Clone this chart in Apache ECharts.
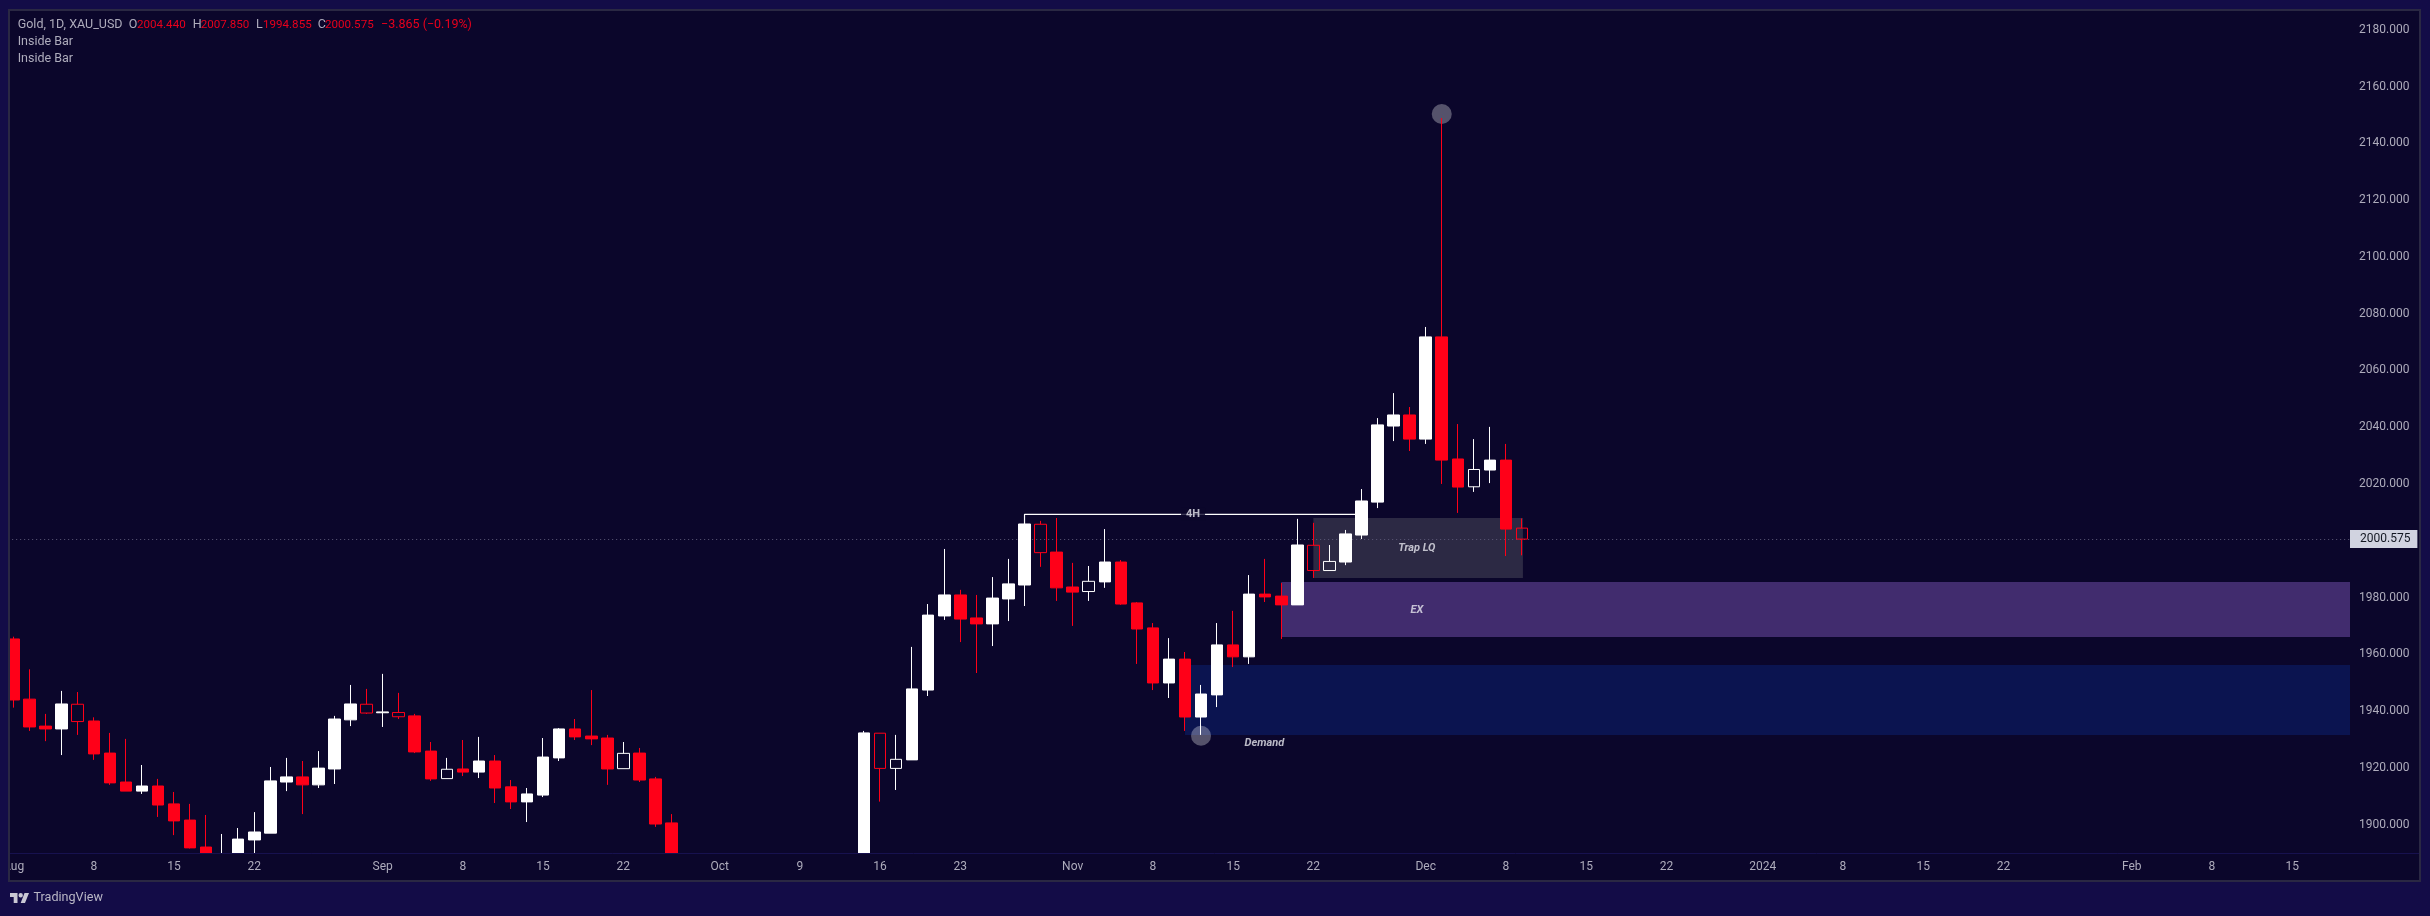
<!DOCTYPE html>
<html>
<head>
<meta charset="utf-8">
<title>Gold, 1D, XAU_USD</title>
<style>
  html, body { margin: 0; padding: 0; background: #130c47; }
  #chart { width: 2430px; height: 916px; }
</style>
</head>
<body>
<div id="chart"></div>
<script src="https://cdn.jsdelivr.net/npm/echarts@6/dist/echarts.min.js"></script>
<script>
// one entry per weekday from 1 Aug 2023, null = the whole bar sits below the pane
const opens = [1965.4,1944.2,1934.7,1933.7,1942.4,1936.5,1925.2,1915.0,1911.8,1913.6,1907.3,1901.6,1892.1,1887.0,1888.0,1894.6,1897.0,1915.0,1916.8,1914.0,1919.6,1936.9,1942.4,1939.4,1939.5,1938.3,1925.9,1916.2,1919.6,1918.5,1922.4,1913.3,1908.0,1910.4,1923.5,1933.7,1931.2,1930.5,1919.7,1925.2,1916.1,1900.6,
  null,null,null,null,null,null,null,null,null,null,null,
  1870.0,1932.2,1919.8,1922.8,1947.4,1973.5,1980.9,1972.8,1970.7,1979.5,1984.4,2005.8,1996.0,1983.7,1982.1,1985.5,1992.5,1978.1,1969.3,1949.9,1958.3,1937.9,1945.7,1963.3,1959.1,1981.2,1980.5,1977.4,1998.4,1989.5,1992.5,2002.0,2013.6,2040.4,2044.3,2035.8,2071.8,2028.8,2019.0,2024.9,2028.4,2004.44];
const closes = [1943.9,1934.4,1933.7,1942.5,1936.3,1924.9,1914.7,1911.8,1913.6,1906.9,1901.3,1891.8,1889.0,1889.0,1894.9,1897.4,1915.4,1916.8,1914.0,1919.9,1937.2,1942.5,1939.3,1939.7,1938.0,1925.6,1916.1,1919.5,1918.5,1922.4,1912.9,1908.0,1910.8,1923.8,1933.7,1930.9,1930.2,1919.6,1925.1,1915.7,1900.2,1875.0,
  null,null,null,null,null,null,null,null,null,null,null,
  1932.3,1919.8,1923.0,1947.8,1973.8,1980.9,1972.4,1970.7,1979.8,1984.8,2005.9,1995.8,1983.4,1981.9,1985.7,1992.5,1977.7,1968.9,1949.9,1958.3,1937.9,1946.0,1963.3,1959.1,1981.2,1980.2,1977.4,1998.5,1989.5,1992.7,2002.4,2014.0,2040.8,2044.3,2035.8,2071.8,2028.4,2018.9,2025.1,2028.4,2004.1,2000.575];
const lows = [1941.2,1933.0,1929.4,1924.5,1931.6,1922.8,1914.0,1911.8,1910.8,1902.7,1896.3,1891.6,1884.0,1884.0,1884.0,1888.0,1897.0,1911.8,1903.7,1912.9,1914.3,1934.7,1939.0,1934.4,1937.2,1925.2,1915.4,1916.2,1917.1,1916.4,1907.6,1905.5,1900.9,1909.7,1922.4,1929.8,1928.0,1914.0,1919.7,1915.0,1899.2,1872.0,
  null,null,null,null,null,null,null,null,null,null,null,
  1868.0,1908.1,1912.2,1922.8,1945.3,1972.1,1964.3,1953.4,1962.9,1971.7,1977.0,1990.8,1978.8,1970.0,1978.8,1983.4,1977.4,1956.6,1947.4,1944.6,1933.0,1931.6,1941.4,1955.5,1956.6,1978.4,1965.4,1977.4,1986.9,1989.5,1991.4,2000.6,2011.5,2035.1,2031.6,2034.1,2020.0,2009.8,2017.2,2020.3,1994.6,1994.855];
const highs = [1966.2,1954.7,1939.0,1947.1,1946.7,1937.8,1932.3,1930.2,1921.0,1916.1,1911.5,1907.3,1903.4,1896.7,1898.8,1904.4,1920.3,1923.5,1922.4,1925.9,1938.3,1949.2,1947.8,1953.1,1946.4,1939.0,1929.1,1923.5,1929.8,1930.9,1924.5,1915.7,1912.9,1930.5,1934.0,1937.2,1947.4,1931.6,1929.1,1927.0,1916.8,1903.7,
  null,null,null,null,null,null,null,null,null,null,null,
  1933.0,1932.2,1931.6,1962.6,1977.7,1997.1,1982.7,1980.9,1987.2,1993.6,2005.9,2007.0,2008.0,1992.2,1991.1,2004.1,1993.2,1978.4,1971.0,1965.7,1960.8,1949.2,1971.0,1975.3,1987.9,1993.6,1985.1,2007.7,2006.3,1998.5,2003.8,2018.2,2043.2,2052.0,2047.1,2075.3,2148.9,2041.1,2035.8,2040.1,2034.1,2007.85];
// inside bars, drawn hollow
const insideBars = [4,22,24,27,38,54,55,64,67,81,82,91,94];

const timeTicks = [0,5,10,15,23,28,33,38,44,49,54,59,66,71,76,81,88,93,98,103,109,114,119,124,132,137,142];
const timeLabels = ['Aug','8','15','22','Sep','8','15','22','Oct','9','16','23','Nov','8','15','22','Dec','8','15','22','2024','8','15','22','Feb','8','15'];
const priceTicks = [1900,1920,1940,1960,1980,2000,2020,2040,2060,2080,2100,2120,2140,2160,2180];

const lastPrice = 2000.575;
const levelLine = [[63,2005.9],[63,2009.3],[84,2009.3]];
const circleMarks = [[89,2150.3],[74,1931.3]];

const zoneNames = ['Trap LQ','EX','Demand'];
const zoneFrom = [81,79,73];
const zoneTo = [94.06,'max','max'];
const zoneTop = [2008.0,1985.5,1956.2];
const zoneBottom = [1986.9,1966.1,1931.6];
const zoneColors = ['#2c2944','#412c6e','#0b1450'];

const noteTexts = ['4H','Trap LQ','EX','Demand'];
const noteBars = [73.5,87.45,87.45,77.95];
const notePrices = [2009.3,1997.2,1975.6,1928.5];

const headerTexts = ['Gold, 1D, XAU_USD','O','2004.440','H','2007.850','L','1994.855','C','2000.575','−3.865 (−0.19%)'];
const headerLeft = [17.7,128.7,137,192.7,200.7,256,263,317.7,325,381];

const UP = '#ffffff';
const DOWN = '#ff0018';
const PANE = '#0b062b';
const OUTER = '#130c47';
const BORDER = '#2a2843';
const MUTED = '#aeacbc';
const FONT = 'Roboto';

const candles = opens.map((o, i) => {
    if (o === null) return null;
    const item = { value: [i, o, closes[i], lows[i], highs[i]] };
    if (insideBars.includes(i)) {
        item.itemStyle = { color: 'transparent', color0: 'transparent' };
    }
    return item;
}).filter(Boolean);

const zones = zoneNames.map((name, i) => [
    { xAxis: zoneFrom[i], yAxis: zoneTop[i], itemStyle: { color: zoneColors[i], opacity: 1 } },
    { xAxis: zoneTo[i], yAxis: zoneBottom[i] }
]);

const chrome = [
    { type: 'rect', z: -10, shape: { x: 9, y: 10, width: 2411, height: 871 }, style: { fill: PANE } },
    // candlesticks are not clipped to the grid, so the time axis strip and page edge sit on top of them
    { type: 'rect', z: 5, shape: { x: 9, y: 853, width: 2411, height: 28 }, style: { fill: PANE } },
    { type: 'rect', z: 5, shape: { x: 0, y: 881, width: 2430, height: 35 }, style: { fill: OUTER } },
    { type: 'rect', z: 100, shape: { x: 0, y: 0, width: 8, height: 916 }, style: { fill: OUTER } },
    { type: 'rect', z: 100, shape: { x: 9, y: 10, width: 2411, height: 871 },
      style: { fill: 'none', stroke: BORDER, lineWidth: 2 } },
    { type: 'line', z: 6, shape: { x1: 10, y1: 853.5, x2: 2419, y2: 853.5 },
      style: { stroke: '#17114f', lineWidth: 1 } },
    // TradingView mark
    { type: 'polygon', z: 100, shape: { points: [[10,893],[17.5,893],[17.5,903],[13.7,903],[13.7,897],[10,897]] }, style: { fill: '#c9c8d4' } },
    { type: 'polygon', z: 100, shape: { points: [[24.5,893],[29,893],[25,903],[20.7,903]] }, style: { fill: '#c9c8d4' } },
    { type: 'circle', z: 100, shape: { cx: 20.7, cy: 895.2, r: 2.2 }, style: { fill: '#c9c8d4' } },
    { type: 'text', z: 100, style: { text: 'TradingView', x: 33.5, y: 898, fill: '#b9b7c6',
        font: '12.6px ' + FONT, textVerticalAlign: 'middle' } }
];
headerTexts.forEach((text, i) => {
    const isValue = i === 2 || i === 4 || i === 6 || i === 8 || i === 9;
    const size = i === 2 || i === 4 || i === 6 || i === 8 ? '11.6px ' : '12.5px ';
    chrome.push({ type: 'text', z: 100, style: { text: text, x: headerLeft[i], y: 25,
        fill: isValue ? '#e8001c' : MUTED, font: size + FONT, textVerticalAlign: 'middle' } });
});
[42, 59].forEach(y => {
    chrome.push({ type: 'text', z: 100, style: { text: 'Inside Bar', x: 17.7, y: y, fill: MUTED,
        font: '12.5px ' + FONT, textVerticalAlign: 'middle' } });
});

const chart = echarts.init(document.getElementById('chart'));
chart.setOption({
    animation: false,
    backgroundColor: OUTER,
    textStyle: { fontFamily: FONT },
    graphic: { elements: chrome },
    grid: { left: 10, right: 80, top: 11, bottom: 63 },
    xAxis: {
        type: 'value',
        z: 7,
        min: -0.087,
        max: 145.6,
        splitLine: { show: false },
        axisLine: { show: false },
        axisTick: { show: false },
        axisLabel: {
            customValues: timeTicks,
            color: MUTED,
            fontSize: 12,
            margin: 8,
            formatter: value => timeLabels[timeTicks.indexOf(value)]
        }
    },
    yAxis: {
        type: 'value',
        position: 'right',
        min: 1890,
        max: 2186.6,
        splitLine: { show: false },
        axisLine: { show: false },
        axisTick: { show: false },
        axisLabel: {
            customValues: priceTicks,
            color: MUTED,
            fontSize: 12,
            margin: 9,
            formatter: value => value.toFixed(3)
        }
    },
    series: [
        {
            name: 'zones',
            type: 'line',
            data: [],
            z: 1,
            markArea: { silent: true, z: 1, data: zones },
            markLine: {
                silent: true,
                z: 1,
                symbol: 'none',
                lineStyle: { color: '#5d5a78', width: 1, type: [1, 3] },
                label: {
                    position: 'end',
                    distance: 0,
                    color: '#131722',
                    fontSize: 12,
                    backgroundColor: '#d1d3e0',
                    padding: [3, 7, 3, 10],
                    formatter: lastPrice.toFixed(3)
                },
                data: [{ yAxis: lastPrice }]
            }
        },
        {
            name: 'touches',
            type: 'scatter',
            z: 1,
            symbolSize: 20,
            itemStyle: { color: 'rgba(255,255,255,0.38)' },
            data: circleMarks
        },
        {
            name: 'Gold',
            type: 'candlestick',
            z: 2,
            barWidth: 12,
            encode: { x: 0, y: [1, 2, 3, 4] },
            itemStyle: {
                color: UP,
                color0: DOWN,
                borderColor: UP,
                borderColor0: DOWN,
                borderColorDoji: UP,
                borderWidth: 1
            },
            data: candles
        },
        {
            name: '4H level',
            type: 'line',
            z: 3,
            symbol: 'none',
            lineStyle: { color: '#ffffff', width: 1.2 },
            data: levelLine
        },
        {
            name: 'notes',
            type: 'scatter',
            z: 4,
            symbolSize: 1,
            itemStyle: { color: 'transparent' },
            label: {
                show: true,
                position: 'inside',
                color: '#e6e6ee',
                fontSize: 11,
                fontWeight: 'bold',
                fontStyle: 'italic',
                formatter: p => noteTexts[p.dataIndex]
            },
            data: noteBars.map((bar, i) => {
                const point = { value: [bar, notePrices[i]] };
                if (noteTexts[i] === '4H') {
                    point.label = { backgroundColor: PANE, padding: [1, 5], fontStyle: 'normal' };
                }
                return point;
            })
        }
    ]
});
</script>
</body>
</html>
